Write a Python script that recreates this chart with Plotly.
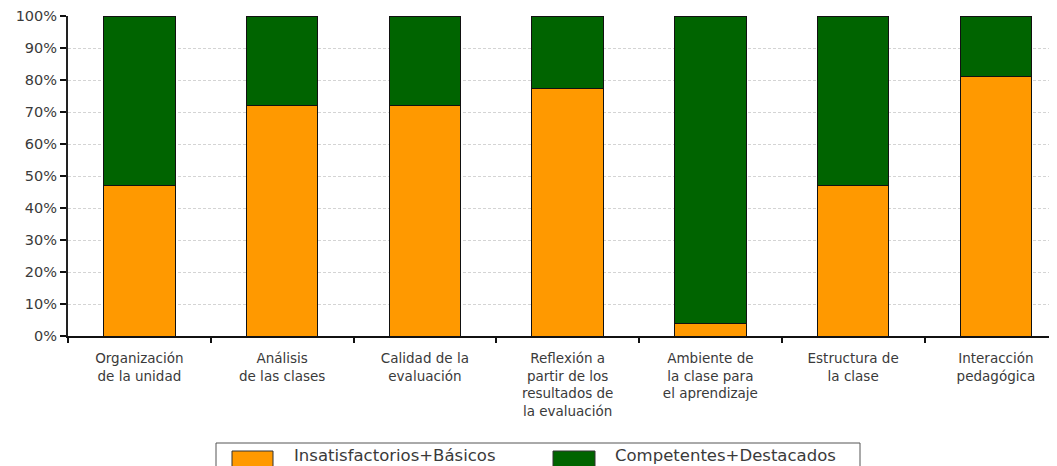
import plotly.graph_objects as go

categories = [
    "Organización<br>de la unidad",
    "Análisis<br>de las clases",
    "Calidad de la<br>evaluación",
    "Reflexión a<br>partir de los<br>resultados de<br>la evaluación",
    "Ambiente de<br>la clase para<br>el aprendizaje",
    "Estructura de<br>la clase",
    "Interacción<br>pedagógica",
]
insatisfactorios_basicos = [0.47, 0.72, 0.72, 0.775, 0.04, 0.47, 0.81]
competentes_destacados = [0.53, 0.28, 0.28, 0.225, 0.96, 0.53, 0.19]
series_names = ["Insatisfactorios+Básicos", "Competentes+Destacados"]
colors = ["#FF9900", "#006400"]

# page body has an 8px margin, so the figure is offset by (8, 8)
OFF = 8
W, H = 1057 - OFF, 466 - OFF
ml, mt = 68 - OFF, 16 - OFF
plot_bottom = 336 - OFF
mb = H - plot_bottom
plot_w = W - ml
plot_h = H - mt - mb
unit = 142.75

fig = go.Figure()
for name, vals, col in zip(series_names, [insatisfactorios_basicos, competentes_destacados], colors):
    fig.add_trace(go.Bar(
        x=categories, y=vals, name=name, marker=dict(color=col, line=dict(color="#111111", width=1)),
        width=0.5, showlegend=False,
    ))

fig.update_layout(
    barmode="stack",
    width=W, height=H,
    margin=dict(l=ml, r=0, t=mt, b=mb, pad=0),
    paper_bgcolor="white", plot_bgcolor="white",
    font=dict(family="DejaVu Sans", size=13, color="#3a3a3a"),
)
fig.update_xaxes(
    type="category",
    range=[-0.5, -0.5 + plot_w / unit],
    tickson="boundaries",
    ticks="outside", ticklen=5, tickwidth=2, tickcolor="#111111",
    ticklabelstandoff=9,
    showline=True, linecolor="#111111", linewidth=2,
    showgrid=False,
    tickfont=dict(family="DejaVu Sans", size=13.5, color="#3a3a3a"),
)
fig.update_yaxes(
    range=[0, 1], dtick=0.1, tickformat=".0%",
    ticks="outside", ticklen=6, tickwidth=2, tickcolor="#111111",
    ticklabeloverflow="allow",
    showline=True, linecolor="#222222", linewidth=2,
    showgrid=True, gridcolor="#d4d4d4", gridwidth=1, griddash="3px,2px",
    zeroline=False,
    tickfont=dict(family="DejaVu Sans", size=14.5, color="#3a3a3a"),
)

def px_x(px):
    return (px - OFF - ml) / plot_w

def px_y(py):
    return (plot_bottom - (py - OFF)) / plot_h

# legend drawn as shapes + text (reference page coordinates)
fig.add_shape(type="rect", xref="paper", yref="paper",
              x0=px_x(216), x1=px_x(860), y0=px_y(480), y1=px_y(443),
              line=dict(color="#555555", width=1), fillcolor="white")
swatches = [(232, 273, 292), (553, 595, 613)]
for (sx0, sx1, tx), name, col in zip(swatches, series_names, colors):
    fig.add_shape(type="rect", xref="paper", yref="paper",
                  x0=px_x(sx0), x1=px_x(sx1), y0=px_y(480), y1=px_y(451),
                  line=dict(color="#333333", width=1), fillcolor=col)
    fig.add_annotation(xref="paper", yref="paper", x=px_x(tx), y=px_y(455),
                       text=name, showarrow=False, xanchor="left", yanchor="middle",
                       font=dict(family="DejaVu Sans", size=16.5, color="#3a3a3a"))

fig.write_html("out.html")
